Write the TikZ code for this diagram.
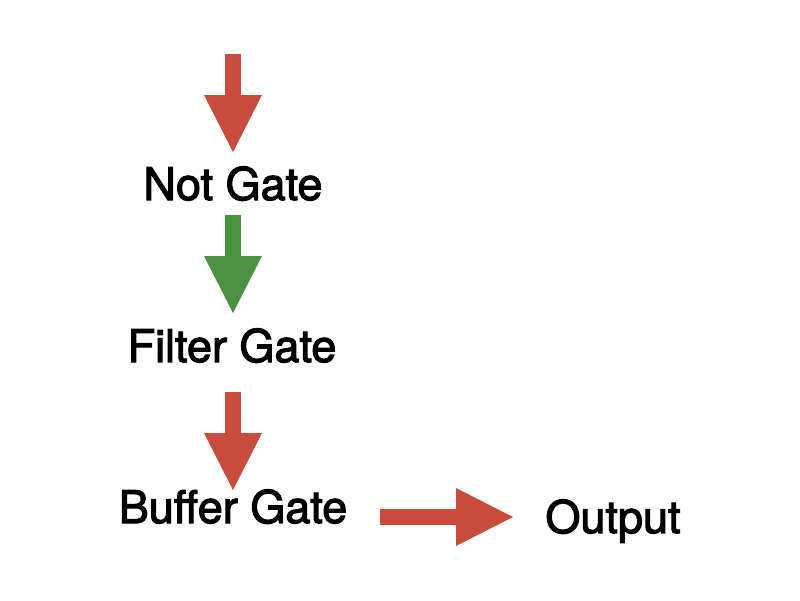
\documentclass[tikz,border=0pt]{standalone}
\usepackage{fontspec}
\setmainfont{TeX Gyre Heros}
\newfontfamily\medfont{TeX Gyre Heros}[FakeBold=2.5]
\usetikzlibrary{arrows.meta}
\definecolor{ared}{RGB}{200,76,62}
\definecolor{agreen}{RGB}{74,145,64}
\begin{document}
\begin{tikzpicture}[x=1pt,y=-1pt,
  lbl/.style={font=\medfont\fontsize{45}{50}\selectfont, inner sep=0pt, anchor=base},
  blockarrow/.style={line width=16pt, -{Triangle[width=58pt,length=57pt,line width=0pt]}}]
\useasboundingbox (0,0) rectangle (800,600);
\node[lbl] (nt) at (233,200) {Not Gate};
\node[lbl] (ft) at (232,362) {Filter Gate};
\node[lbl] (bt) at (233,523) {Buffer Gate};
\node[lbl] (out) at (613,533) {Output};
\coordinate (a1s) at (233,54);
\coordinate (a1e) at (233,152);
\coordinate (a2s) at (233,215);
\coordinate (a2e) at (233,313);
\coordinate (a3s) at (233,392);
\coordinate (a3e) at (233,490);
\coordinate (a4s) at (380,517);
\coordinate (a4e) at (513,517);
\draw[blockarrow, ared] (a1s) -- (a1e);
\draw[blockarrow, agreen] (a2s) -- (a2e);
\draw[blockarrow, ared] (a3s) -- (a3e);
\draw[blockarrow, ared] (a4s) -- (a4e);
\end{tikzpicture}
\end{document}
